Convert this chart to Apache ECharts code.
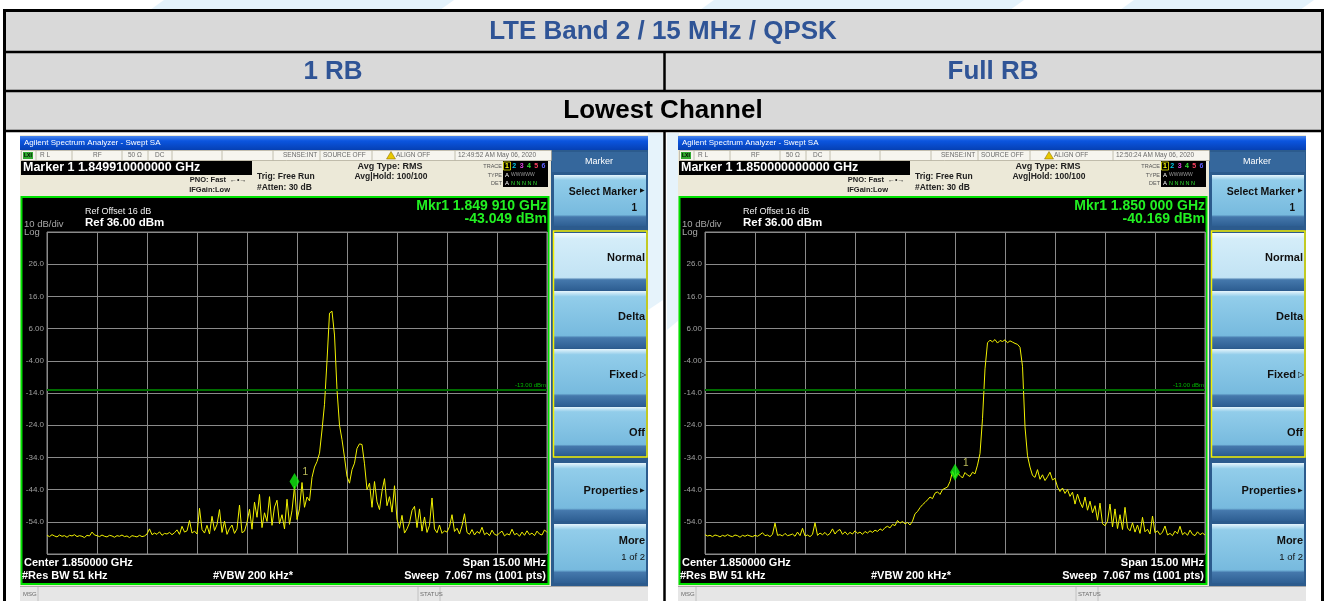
<!DOCTYPE html>
<html>
<head>
<meta charset="utf-8">
<title>LTE Band 2 / 15 MHz / QPSK</title>
<script src="https://cdn.jsdelivr.net/npm/echarts@6/dist/echarts.min.js"></script>
<style>
html, body { margin: 0; padding: 0; background: #fff; }
#chart { width: 1328px; height: 601px; }
</style>
</head>
<body>
<div id="chart"></div>
<script>
// sweep traces, 201 points over the 15 MHz span (index 0..200), values in dBm
const trace1RB = [
  -58.2,-58.6,-58.0,-58.4,-58.7,-58.1,-58.5,-58.3,-58.8,-58.2,-58.4,-58.0,-58.6,-58.3,-58.5,-58.9,-58.2,-58.4,-57.2,-58.1,
  -58.3,-58.6,-58.1,-58.5,-58.7,-58.2,-58.4,-58.8,-58.3,-58.5,-58.1,-58.6,-58.4,-58.9,-58.3,-58.5,-58.7,-58.2,-58.6,-58.4,
  -57.8,-56.2,-58.0,-57.5,-57.9,-57.1,-58.2,-57.6,-57.8,-57.3,-58.0,-57.4,-56.5,-57.9,-55.4,-57.2,-56.8,-53.6,-57.5,-56.9,
  -57.8,-49.8,-56.4,-57.5,-55.1,-57.8,-52.3,-56.7,-54.9,-50.2,-57.3,-53.8,-57.9,-56.1,-55.0,-57.6,-56.2,-48.8,-57.4,-56.9,
  -54.2,-50.1,-56.3,-47.9,-52.6,-45.5,-55.8,-51.2,-53.9,-46.2,-55.1,-49.4,-47.3,-54.6,-51.8,-56.2,-47.0,-54.8,-50.5,-43.0,
  -53.3,-50.0,-41.8,-49.5,-46.3,-47.5,-40.2,-37.0,-35.3,-32.7,-25.5,-17.5,-4.0,10.8,11.4,4.0,-13.0,-24.0,-28.5,-34.0,
  -39.9,-42.0,-37.8,-35.8,-31.2,-29.8,-30.0,-36.0,-44.0,-42.0,-49.5,-41.5,-47.8,-50.2,-44.5,-40.6,-49.0,-46.2,-51.0,-42.8,
  -53.3,-56.0,-52.0,-57.5,-56.2,-54.3,-50.5,-49.2,-55.8,-50.0,-56.9,-52.5,-57.3,-55.1,-46.6,-56.2,-57.4,-55.0,-57.6,-56.8,
  -57.2,-55.5,-51.8,-57.0,-56.0,-57.8,-55.2,-51.5,-57.3,-57.9,-56.4,-58.1,-57.0,-57.6,-55.7,-58.0,-57.4,-58.3,-56.6,-57.9,
  -58.2,-57.5,-56.9,-58.4,-57.7,-58.1,-56.3,-58.0,-57.6,-58.5,-57.2,-58.2,-56.8,-58.0,-57.5,-58.3,-56.9,-57.8,-58.1,-56.5,-57.3
];
const traceFullRB = [
  -58.0,-58.4,-58.2,-58.6,-58.1,-58.3,-58.7,-58.2,-58.5,-58.0,-58.4,-58.6,-58.1,-58.3,-58.8,-58.2,-58.5,-58.1,-58.4,-58.6,
  -58.2,-58.5,-58.0,-57.4,-58.3,-58.1,-58.6,-57.9,-54.4,-58.2,-58.0,-58.4,-57.6,-58.3,-58.1,-57.8,-58.5,-57.2,-58.3,-56.0,
  -58.4,-58.1,-58.6,-57.9,-54.3,-58.2,-57.5,-58.0,-57.3,-58.2,-57.6,-56.2,-57.8,-56.8,-56.4,-57.9,-57.1,-58.0,-57.3,-57.8,
  -56.8,-57.6,-57.2,-57.9,-57.0,-57.5,-56.8,-57.3,-56.6,-57.0,-56.2,-56.7,-55.8,-55.4,-55.9,-54.8,-55.2,-53.6,-54.4,-53.9,
  -54.6,-54.2,-55.0,-53.8,-51.5,-50.8,-49.6,-48.7,-48.0,-47.2,-46.3,-46.8,-45.1,-44.7,-45.5,-44.0,-43.6,-43.2,-41.5,-38.4,
  -40.2,-38.9,-39.6,-40.4,-38.7,-39.5,-39.9,-38.6,-39.1,-36.4,-32.8,-22.0,-6.5,1.6,2.4,1.9,2.6,1.5,2.3,2.0,
  2.5,1.6,2.2,1.8,1.4,1.1,0.2,-5.7,-24.5,-33.5,-37.0,-39.6,-40.2,-37.8,-40.8,-39.4,-41.2,-40.0,-38.6,-41.0,
  -40.5,-43.2,-44.6,-43.5,-45.2,-44.0,-46.1,-44.8,-48.5,-45.4,-47.9,-49.6,-46.3,-50.4,-47.6,-51.2,-49.0,-53.5,-48.2,-54.6,
  -55.2,-53.8,-48.5,-55.6,-50.0,-56.1,-51.8,-56.4,-49.5,-55.9,-56.8,-54.3,-57.2,-55.0,-57.6,-52.6,-57.1,-56.3,-57.8,-52.2,
  -57.4,-56.8,-58.0,-57.2,-55.3,-58.1,-57.6,-58.3,-56.9,-57.7,-55.4,-58.0,-57.3,-58.2,-56.6,-57.9,-58.3,-57.1,-58.0,-57.5,-58.1
];
const traces = [trace1RB, traceFullRB];
const markerIndex = [99, 100];
const markerHeader = ['Marker 1 1.849910000000 GHz', 'Marker 1 1.850000000000 GHz'];
const markerFreq = ['Mkr1 1.849 910 GHz', 'Mkr1 1.850 000 GHz'];
const markerLevel = ['-43.049 dBm', '-40.169 dBm'];
const timeStamp = ['12:49:52 AM May 06, 2020', '12:50:24 AM May 06, 2020'];
const refLevel = 36;
const dbPerDiv = 10;
const displayLine = -13;

const tableTitle = 'LTE Band 2 / 15 MHz / QPSK';
const columnTitles = ['1 RB', 'Full RB'];
const rowTitle = 'Lowest Channel';

const FONT = '"Liberation Sans", Arial, sans-serif';

function rect(x, y, w, h, fill, z) {
  return { type: 'rect', silent: true, z: z == null ? -10 : z,
    shape: { x: x, y: y, width: w, height: h }, style: { fill: fill } };
}
function frame(x, y, w, h, stroke, lw, z) {
  return { type: 'rect', silent: true, z: z == null ? -4 : z,
    shape: { x: x, y: y, width: w, height: h }, style: { fill: 'none', stroke: stroke, lineWidth: lw } };
}
function seg(x1, y1, x2, y2, stroke, lw, z) {
  return { type: 'line', silent: true, z: z == null ? -4 : z,
    shape: { x1: x1, y1: y1, x2: x2, y2: y2 }, style: { stroke: stroke, lineWidth: lw } };
}
function txt(x, y, s, size, fill, opt) {
  opt = opt || {};
  const align = opt.align || 'left';
  return { type: 'text', silent: true, x: x, y: y, z: opt.z == null ? 20 : opt.z,
    style: { text: s, fill: fill, font: (opt.bold ? 'bold ' : '') + size + 'px ' + (opt.family || FONT),
      align: align, textAlign: align, verticalAlign: 'middle', textVerticalAlign: 'middle' } };
}
function grad(stops) {
  return new echarts.graphic.LinearGradient(0, 0, 0, 1, stops.map(function (s) { return { offset: s[0], color: s[1] }; }));
}

// table around the two screenshots
function buildTable() {
  const els = [];
  // faint watermark stripes
  [[150, 440], [700, 1010], [1120, 1300]].forEach(function (p) {
    els.push({ type: 'polygon', silent: true, z: -20,
      shape: { points: [[p[0] + 14, 0], [p[1] + 14, 0], [p[1], 10], [p[0], 10]] }, style: { fill: '#e4f2fb' } });
  });
  els.push(rect(4, 10, 1318, 121, '#d9d9d9', -20));
  els.push(seg(3, 10.5, 1324, 10.5, '#000', 3, -3));
  els.push(seg(3, 52, 1324, 52, '#000', 2.5, -3));
  els.push(seg(3, 91, 1324, 91, '#000', 2.5, -3));
  els.push(seg(3, 131, 1324, 131, '#000', 2.5, -3));
  els.push(seg(4.5, 9, 4.5, 601, '#000', 3, -3));
  els.push(seg(1322.5, 9, 1322.5, 601, '#000', 3, -3));
  els.push(seg(664.5, 52, 664.5, 91, '#000', 2.5, -3));
  els.push(seg(664.5, 131, 664.5, 601, '#000', 2.5, -3));
  els.push(txt(663, 32, tableTitle, 26, '#2f5496', { bold: true, align: 'center' }));
  els.push(txt(333, 72, columnTitles[0], 26, '#2f5496', { bold: true, align: 'center' }));
  els.push(txt(993, 72, columnTitles[1], 26, '#2f5496', { bold: true, align: 'center' }));
  els.push(txt(663, 111, rowTitle, 26, '#000', { bold: true, align: 'center' }));
  // light blue patches beside the screenshots
  els.push({ type: 'polygon', silent: true, z: -20,
    shape: { points: [[648, 133], [663, 133], [663, 300], [648, 310]] }, style: { fill: '#e6f3fb' } });
  els.push({ type: 'polygon', silent: true, z: -20,
    shape: { points: [[667, 133], [679, 133], [679, 320], [667, 330]] }, style: { fill: '#e6f3fb' } });
  return els;
}

// analyzer window chrome for screenshot i
function buildScreen(i) {
  const dx = i * 658;
  const X = function (v) { return v + dx; };
  const els = [];
  const dark = '#202020';
  els.push(rect(X(20), 135, 628, 466, '#ece9d8', -12));
  els.push({ type: 'rect', silent: true, z: -10, shape: { x: X(20), y: 136, width: 628, height: 14 },
    style: { fill: grad([[0, '#4a86ec'], [0.35, '#0b55df'], [1, '#0540b4']]) } });
  els.push(txt(X(24), 143, 'Agilent Spectrum Analyzer - Swept SA', 8, '#ffffff'));

  // status row
  els.push(rect(X(21), 150, 531, 10, '#f6f5ef', -10));
  els.push(frame(X(21.5), 150.5, 530, 10, '#b5b0a0', 0.8, -8));
  [36, 72, 122, 148, 172, 222, 273, 320, 372, 455].forEach(function (sx) {
    els.push(seg(X(sx), 150.5, X(sx), 160.5, '#b5b0a0', 0.8, -8));
  });
  els.push(rect(X(23), 152, 10, 7, '#2fa82f', -6));
  els.push(txt(X(24), 155.5, 'LXI', 5, '#000', { bold: true }));
  [['R L', 40], ['RF', 93], ['50 \u03a9', 128], ['DC', 155], ['SENSE:INT', 283], ['SOURCE OFF', 323], ['ALIGN OFF', 396], [timeStamp[i], 458]]
    .forEach(function (t) { els.push(txt(X(t[1]), 155.5, t[0], 6.5, '#6a6a6a')); });
  els.push({ type: 'polygon', silent: true, z: -6,
    shape: { points: [[X(391), 151.5], [X(395.5), 159], [X(386.5), 159]] }, style: { fill: '#e8c800', stroke: '#806000', lineWidth: 0.5 } });

  // marker readout and settings
  els.push(rect(X(21), 161, 231, 14, '#000', -8));
  els.push(txt(X(23), 168, markerHeader[i], 12.5, '#ffffff', { bold: true }));
  els.push(txt(X(226), 180, 'PNO: Fast', 7.5, dark, { bold: true, align: 'right' }));
  els.push(txt(X(230), 180, '\u2190\u2022\u2192', 7, dark));
  els.push(txt(X(230), 190, 'IFGain:Low', 7.5, dark, { bold: true, align: 'right' }));
  els.push(txt(X(257), 177, 'Trig: Free Run', 8.5, dark, { bold: true }));
  els.push(txt(X(257), 188, '#Atten: 30 dB', 8.5, dark, { bold: true }));
  els.push(txt(X(390), 167, 'Avg Type: RMS', 9, dark, { bold: true, align: 'center' }));
  els.push(txt(X(391), 177, 'Avg|Hold: 100/100', 8.5, dark, { bold: true, align: 'center' }));
  els.push(txt(X(502), 166, 'TRACE', 5.5, '#555', { align: 'right' }));
  els.push(txt(X(502), 175, 'TYPE', 5.5, '#555', { align: 'right' }));
  els.push(txt(X(502), 183, 'DET', 5.5, '#555', { align: 'right' }));
  els.push(rect(X(503), 161, 45, 26, '#000', -8));
  ['#ffff00', '#00c8e8', '#e040e0', '#30e030', '#ff4060', '#6060ff'].forEach(function (c, k) {
    els.push(txt(X(507 + k * 7.3), 166, String(k + 1), 7, c, { bold: true, align: 'center' }));
  });
  els.push(frame(X(503.5), 162, 7, 8, '#ffff00', 0.7, 22));
  els.push(txt(X(505), 175, 'A', 6, '#fff'));
  els.push(txt(X(511), 175, 'WWWWW', 5, '#9a9a9a'));
  els.push(txt(X(505), 183, 'A', 6, '#fff'));
  els.push(txt(X(511), 183, 'N N N N N', 5.5, '#30e030'));

  // measurement display
  els.push(rect(X(21), 196, 528, 389, '#000', -8));
  els.push(frame(X(21.5), 197, 527, 387, '#00e000', 2, -6));
  els.push(txt(X(85), 212, 'Ref Offset 16 dB', 9, '#f0f0f0'));
  els.push(txt(X(85), 223, 'Ref 36.00 dBm', 11.5, '#ffffff', { bold: true }));
  els.push(txt(X(24), 224, '10 dB/div', 9.5, '#a8a8a8'));
  els.push(txt(X(24), 232, 'Log', 9.5, '#a8a8a8'));
  els.push(txt(X(547), 206, markerFreq[i], 14, '#22f022', { bold: true, align: 'right' }));
  els.push(txt(X(547), 219.5, markerLevel[i], 14, '#22f022', { bold: true, align: 'right' }));
  els.push(txt(X(24), 563, 'Center 1.850000 GHz', 11, '#ffffff', { bold: true }));
  els.push(txt(X(546), 563, 'Span 15.00 MHz', 11, '#ffffff', { bold: true, align: 'right' }));
  els.push(txt(X(22), 576, '#Res BW 51 kHz', 11, '#ffffff', { bold: true }));
  els.push(txt(X(213), 576, '#VBW 200 kHz*', 11, '#ffffff', { bold: true }));
  els.push(txt(X(546), 576, 'Sweep  7.067 ms (1001 pts)', 11, '#ffffff', { bold: true, align: 'right' }));

  // softkey panel
  els.push(rect(X(551), 150, 97, 436, '#2c5b8d', -9));
  els.push(rect(X(552), 152, 95, 20, '#35679c', -8));
  els.push(txt(X(599), 162, 'Marker', 9, '#ffffff', { align: 'center' }));
  const keys = [
    [175, 226, false], [233, 290, true], [291, 348, false], [349, 406, false],
    [407, 455, false], [463, 521, false], [524, 583, false]
  ];
  keys.forEach(function (k) {
    const body = k[2] ? ['#f4fbfe', '#d4edf9', '#c2e3f4'] : ['#e6f5fc', '#92cdea', '#77bade'];
    els.push({ type: 'rect', silent: true, z: -7, shape: { x: X(554), y: k[0], width: 92, height: k[1] - k[0] },
      style: { fill: grad([[0, body[0]], [0.1, body[1]], [0.78, body[2]], [0.82, '#4578ac'], [1, '#2e5f93']]) } });
  });
  els.push(frame(X(553.5), 231, 93.5, 226, '#f4f000', 1.5, -5));
  els.push(txt(X(637), 192, 'Select Marker', 10.5, '#101010', { bold: true, align: 'right' }));
  els.push(txt(X(645), 190, '\u25B6', 6, '#101010', { align: 'right' }));
  els.push(txt(X(637), 208, '1', 10, '#101010', { bold: true, align: 'right' }));
  els.push(txt(X(645), 258, 'Normal', 11, '#101010', { bold: true, align: 'right' }));
  els.push(txt(X(645), 317, 'Delta', 11, '#101010', { bold: true, align: 'right' }));
  els.push(txt(X(638), 375, 'Fixed', 11, '#101010', { bold: true, align: 'right' }));
  els.push(txt(X(646), 375, '\u25B7', 8, '#101010', { align: 'right' }));
  els.push(txt(X(645), 433, 'Off', 11, '#101010', { bold: true, align: 'right' }));
  els.push(txt(X(638), 491, 'Properties', 11, '#101010', { bold: true, align: 'right' }));
  els.push(txt(X(645), 490, '\u25B6', 6, '#101010', { align: 'right' }));
  els.push(txt(X(645), 541, 'More', 11, '#101010', { bold: true, align: 'right' }));
  els.push(txt(X(645), 557, '1 of 2', 9.5, '#101010', { align: 'right' }));

  // message bar
  els.push(rect(X(20), 586, 628, 15, '#e6e6e6', -9));
  els.push(seg(X(20), 586.5, X(648), 586.5, '#a8a8a8', 1, -8));
  els.push(seg(X(38), 587, X(38), 601, '#b8b8b8', 0.8, -8));
  els.push(seg(X(418), 587, X(418), 601, '#b8b8b8', 0.8, -8));
  els.push(seg(X(440), 587, X(440), 601, '#b8b8b8', 0.8, -8));
  els.push(txt(X(23), 594, 'MSG', 6, '#6a6a6a'));
  els.push(txt(X(420), 594, 'STATUS', 6, '#6a6a6a'));
  return els;
}

function yLabel(v) {
  if (v <= refLevel - 10 * dbPerDiv || v >= refLevel) return '';
  return Math.abs(v) < 10 ? v.toFixed(2) : v.toFixed(1);
}

const grids = [0, 1].map(function (i) {
  return { left: 47 + i * 658, top: 232, width: 500, height: 322, show: true,
    borderColor: '#8a8a8a', borderWidth: 1, backgroundColor: 'transparent' };
});
const xAxes = [0, 1].map(function (i) {
  return { type: 'value', gridIndex: i, min: 0, max: 200, interval: 20,
    axisLine: { show: false }, axisTick: { show: false }, axisLabel: { show: false },
    splitLine: { show: true, lineStyle: { color: '#8a8a8a', width: 1 } } };
});
const yAxes = [0, 1].map(function (i) {
  return { type: 'value', gridIndex: i, min: refLevel - 10 * dbPerDiv, max: refLevel, interval: dbPerDiv,
    axisLine: { show: false }, axisTick: { show: false },
    axisLabel: { show: true, formatter: yLabel, color: '#a0a0a0', fontSize: 8, margin: 3, fontFamily: 'Liberation Sans' },
    splitLine: { show: true, lineStyle: { color: '#8a8a8a', width: 1 } } };
});

const series = [];
traces.forEach(function (tr, i) {
  series.push({
    type: 'line', xAxisIndex: i, yAxisIndex: i, showSymbol: false, symbol: 'none', z: 3,
    data: tr.map(function (v, k) { return [k, v]; }),
    lineStyle: { color: '#f2f200', width: 1 },
    markLine: {
      silent: true, symbol: ['none', 'none'], animation: false,
      data: [{ yAxis: displayLine }],
      lineStyle: { color: '#006d00', width: 2, type: 'solid' },
      label: { position: 'insideEndTop', formatter: '-13.00 dBm', color: '#00b400', fontSize: 6, distance: 1 }
    }
  });
  series.push({
    type: 'scatter', xAxisIndex: i, yAxisIndex: i, z: 5,
    data: [[markerIndex[i], tr[markerIndex[i]]]],
    symbol: 'diamond', symbolSize: [10, 17], symbolOffset: [0, -5],
    itemStyle: { color: '#10f010' },
    label: { show: true, formatter: '1', position: [13, -6], color: '#e8e870', fontSize: 10, fontFamily: 'Liberation Sans' }
  });
});

const chart = echarts.init(document.getElementById('chart'), null, { renderer: 'canvas' });
chart.setOption({
  animation: false,
  backgroundColor: '#ffffff',
  grid: grids,
  xAxis: xAxes,
  yAxis: yAxes,
  series: series,
  graphic: { elements: buildTable().concat(buildScreen(0), buildScreen(1)) }
});
</script>
</body>
</html>
